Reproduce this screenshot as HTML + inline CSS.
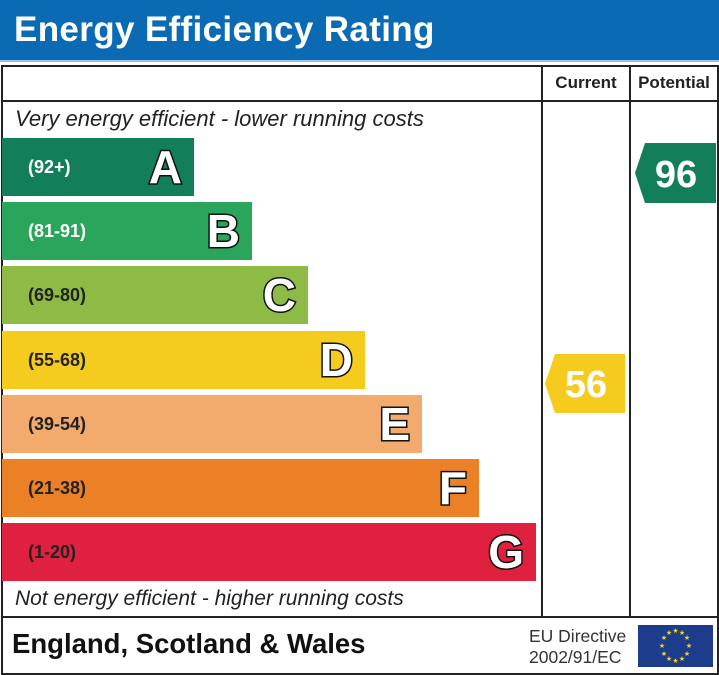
<!DOCTYPE html>
<html><head><style>
body{margin:0;width:719px;height:675px;background:#fff;position:relative;overflow:hidden;font-family:"Liberation Sans",sans-serif}
.a{position:absolute}
.bar{position:absolute;left:2px;height:58px}
.bar .r{position:absolute;left:26px;top:0;line-height:58px;font-size:18px;font-weight:bold;color:#222}
.bar .l{position:absolute;right:12px;top:0;line-height:58px;font-size:46px;font-weight:bold;color:#fff;-webkit-text-stroke:3px #111;paint-order:stroke fill}
.ln{position:absolute;background:#222}
</style></head><body>
<div class="a" style="left:0;top:0;width:719px;height:60px;background:#0a6ab3"></div>
<div class="a" style="left:0;top:60px;width:719px;height:2px;background:#9cc3e4"></div>
<div class="a" style="left:14px;top:8px;font-size:35px;font-weight:bold;color:#fff;line-height:44px;letter-spacing:0.35px">Energy Efficiency Rating</div>
<div class="a" style="left:1px;top:65px;width:714px;height:606px;border:2px solid #222"></div>
<div class="ln" style="left:1px;top:100px;width:717px;height:2px"></div>
<div class="ln" style="left:1px;top:616px;width:717px;height:2px"></div>
<div class="ln" style="left:541px;top:65px;width:2px;height:552px"></div>
<div class="ln" style="left:629px;top:65px;width:2px;height:552px"></div>
<div class="a" style="left:543px;top:73px;width:86px;text-align:center;font-size:17px;font-weight:bold;color:#222">Current</div>
<div class="a" style="left:631px;top:73px;width:86px;text-align:center;font-size:17px;font-weight:bold;color:#222">Potential</div>
<div class="a" style="left:15px;top:106px;font-size:22px;font-style:italic;color:#222">Very energy efficient - lower running costs</div>
<div class="a" style="left:15px;top:587px;font-size:21px;font-style:italic;color:#222">Not energy efficient - higher running costs</div>
<div class="bar" style="top:138px;width:192px;background:#137f5a"><span class="r" style="color:#fff">(92+)</span><span class="l">A</span></div>
<div class="bar" style="top:202px;width:250px;background:#2aa55b"><span class="r" style="color:#fff">(81-91)</span><span class="l">B</span></div>
<div class="bar" style="top:266px;width:306px;background:#8dbb45"><span class="r">(69-80)</span><span class="l">C</span></div>
<div class="bar" style="top:331px;width:363px;background:#f5cc1d"><span class="r">(55-68)</span><span class="l">D</span></div>
<div class="bar" style="top:395px;width:420px;background:#f2ab6d"><span class="r">(39-54)</span><span class="l">E</span></div>
<div class="bar" style="top:459px;width:477px;background:#ec8026"><span class="r">(21-38)</span><span class="l">F</span></div>
<div class="bar" style="top:523px;width:534px;background:#e0203f"><span class="r">(1-20)</span><span class="l">G</span></div>
<svg class="a" style="left:0;top:0" width="719" height="675">
<polygon points="555,354 625,354 625,413 555,413 545,383.5" fill="#f5cc1d"/>
<text x="586" y="397" font-family="Liberation Sans" font-size="38" font-weight="bold" fill="#fff" text-anchor="middle">56</text>
<polygon points="645,143 716,143 716,203 645,203 635,173" fill="#137f5a"/>
<text x="676" y="187" font-family="Liberation Sans" font-size="38" font-weight="bold" fill="#fff" text-anchor="middle">96</text>
<rect x="638" y="625" width="75" height="42" fill="#1d3d8c"/>
<g fill="#f7d417" font-size="7" text-anchor="middle" font-family="DejaVu Sans">
<text x="675.5" y="633">★</text><text x="682" y="635">★</text><text x="687" y="640">★</text><text x="689" y="648">★</text><text x="687" y="656">★</text><text x="682" y="661">★</text><text x="675.5" y="663">★</text><text x="669" y="661">★</text><text x="664" y="656">★</text><text x="662" y="648">★</text><text x="664" y="640">★</text><text x="669" y="635">★</text>
</g>
</svg>
<div class="a" style="left:12px;top:628px;font-size:27.5px;font-weight:bold;color:#111">England, Scotland &amp; Wales</div>
<div class="a" style="left:529px;top:626px;font-size:17.5px;color:#333;line-height:21px">EU Directive<br>2002/91/EC</div>
</body></html>
